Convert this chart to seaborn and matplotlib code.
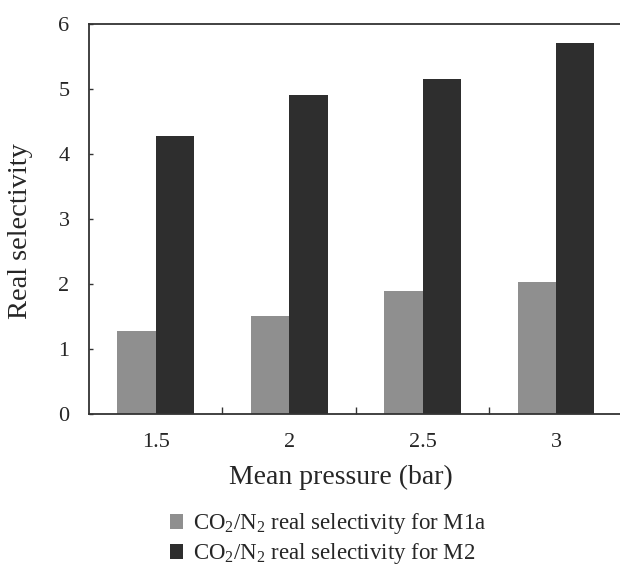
import matplotlib
matplotlib.use("Agg")
import matplotlib.pyplot as plt
import seaborn as sns
import pandas as pd
from matplotlib.ticker import FixedLocator

categories = ["1.5", "2", "2.5", "3"]
m1a = [1.27, 1.51, 1.89, 2.03]
m2 = [4.27, 4.90, 5.16, 5.70]
series_names = [r"CO$_2$/N$_2$ real selectivity for M1a",
                r"CO$_2$/N$_2$ real selectivity for M2"]
yticks = [0, 1, 2, 3, 4, 5, 6]

sns.set_style("white")
plt.rcParams['font.family'] = ['Liberation Serif', 'DejaVu Serif']
plt.rcParams['mathtext.fontset'] = 'custom'
plt.rcParams['mathtext.rm'] = 'Liberation Serif'
plt.rcParams['mathtext.it'] = 'Liberation Serif:italic'
plt.rcParams['mathtext.default'] = 'regular'

df = pd.DataFrame({
    "cat": categories * 2,
    "val": m1a + m2,
    "series": [series_names[0]] * 4 + [series_names[1]] * 4,
})

fig = plt.figure(figsize=(6.2, 5.67), dpi=100)
ax = fig.add_axes([0.1435, 0.2698, 0.861, 0.6879])
sns.barplot(data=df, x="cat", y="val", hue="series", ax=ax,
            palette=["#8f8f8f", "#2e2e2e"], width=0.575, saturation=1,
            edgecolor="none", linewidth=0)
ax.set_ylim(0, 6)
ax.set_xlim(-0.5, 3.5)
ax.set_yticks(yticks)
ax.tick_params(axis='y', left=True, direction='in', length=3, width=1,
               color='#333333', labelsize=16, pad=14)
ax.tick_params(axis='x', which='major', length=0, labelsize=16, pad=14)
ax.xaxis.set_minor_locator(FixedLocator([0.5, 1.5, 2.5]))
ax.tick_params(axis='x', which='minor', bottom=True, direction='in', length=5,
               width=1, color='#333333')
for s in ax.spines.values():
    s.set_color('#333333')
    s.set_linewidth(1.3)
ax.set_xlabel("Mean pressure (bar)", fontsize=20)
ax.set_ylabel("Real selectivity", fontsize=20.5)
ax.xaxis.set_label_coords(0.472, -0.13)
ax.yaxis.set_label_coords(-0.104, 0.469)
ax.legend(loc='upper left', bbox_to_anchor=(0.134, -0.226), frameon=False,
          fontsize=16.5, handlelength=0.6, handleheight=0.6, handletextpad=0.4,
          labelspacing=0.22, borderaxespad=0)
fig.savefig("out.png", dpi=100)
